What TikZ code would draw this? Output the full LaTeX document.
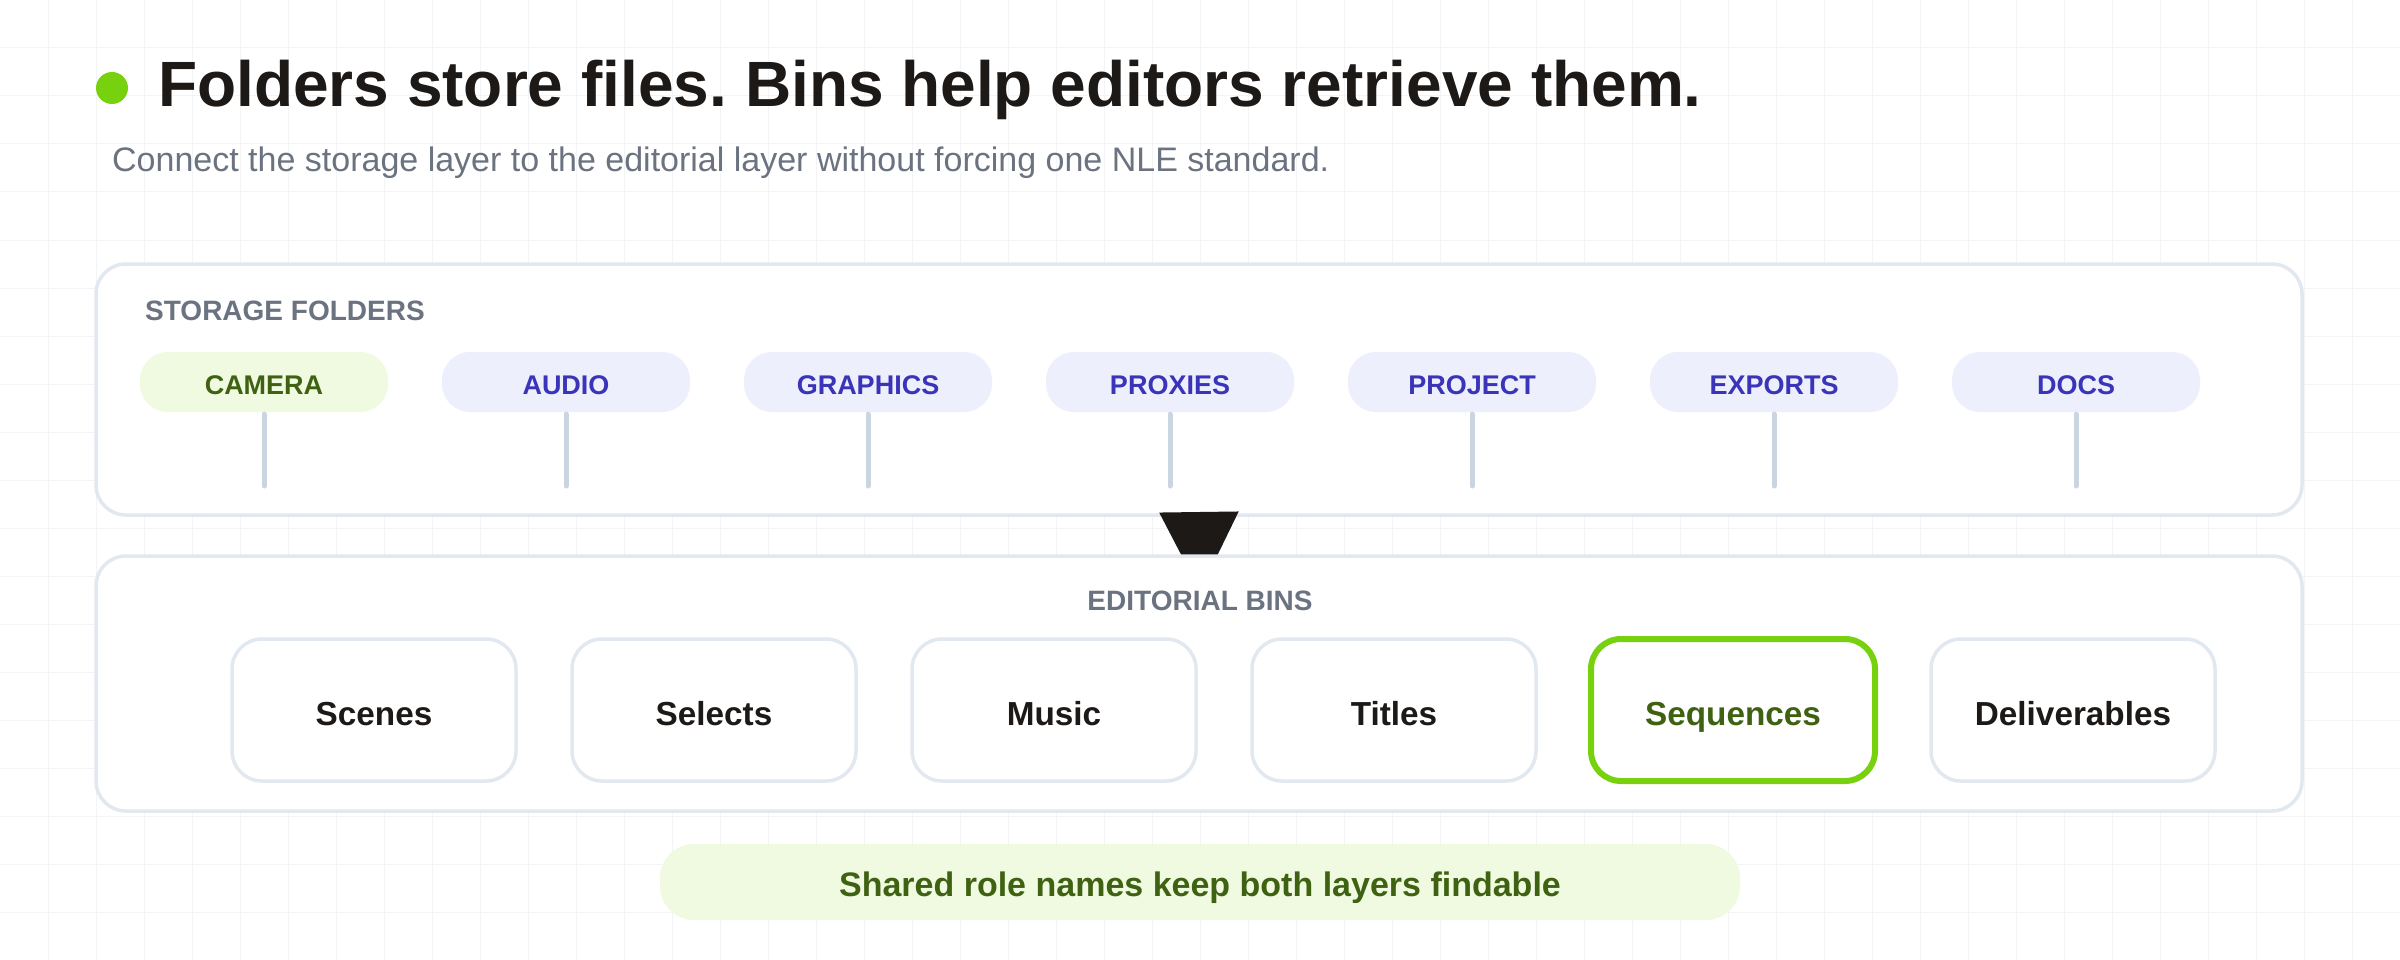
\documentclass[tikz,border=0pt]{standalone}
\usepackage{fontspec}
\setmainfont{Liberation Sans}
\usetikzlibrary{arrows.meta}
\frenchspacing
\definecolor{ink}{HTML}{1C1917}
\definecolor{muted}{HTML}{6B7280}
\definecolor{lime}{HTML}{78D10E}
\definecolor{border}{HTML}{E2E8F0}
\definecolor{stemc}{HTML}{CBD5E1}
\definecolor{gridc}{HTML}{F3F4F6}
\definecolor{indfill}{HTML}{EEEFFD}
\definecolor{indtext}{HTML}{3A34B8}
\definecolor{grfill}{HTML}{F0FAE1}
\definecolor{grtext}{HTML}{3F6212}
\begin{document}
\begin{tikzpicture}[x=1pt,y=-1pt,
  panel/.style={draw=border, line width=3.5pt, fill=white, rounded corners=30pt, inner sep=0pt},
  seclabel/.style={text=muted, font=\fontsize{28}{32}\selectfont\bfseries, inner sep=0pt},
  pill/.style={fill=indfill, text=indtext, rounded corners=28pt, minimum width=248pt, minimum height=60pt, inner sep=0pt, text height=24pt, text depth=0pt, font=\fontsize{27}{30}\selectfont\bfseries},
  greenpill/.style={pill, fill=grfill, text=grtext},
  stem/.style={draw=stemc, line width=5pt, line cap=round},
  binbox/.style={draw=border, line width=3.5pt, fill=white, rounded corners=30pt, minimum width=284pt, minimum height=142pt, inner sep=0pt, text height=30pt, text depth=0pt, text=ink, font=\fontsize{33.3}{38}\selectfont\bfseries},
  hotbin/.style={binbox, draw=lime, line width=6pt, text=grtext}
]
\fill[white] (0,0) rectangle (2400,960);
\useasboundingbox (0,0) rectangle (2400,960);
\foreach \i in {48,96,...,2352} \draw[gridc, line width=1pt] (\i,0) -- (\i,960);
\foreach \j in {48,96,...,912} \draw[gridc, line width=1pt] (0,\j) -- (2400,\j);

% title
\node[circle, fill=lime, minimum size=32pt, inner sep=0pt] (dot) at (112,88) {};
\node[anchor=base west, inner sep=0pt, text=ink, font=\fontsize{64}{72}\selectfont\bfseries] (title) at (158,107) {Folders store files. Bins help editors retrieve them.};
\node[anchor=base west, inner sep=0pt, text=muted, font=\fontsize{34}{40}\selectfont] (sub) at (112,172) {Connect the storage layer to the editorial layer without forcing one NLE standard.};

% storage panel
\node[panel, minimum width=2206pt, minimum height=251pt] (storage) at (1199,389.5) {};
\node[seclabel, anchor=base west] (stlabel) at (145,320) {STORAGE FOLDERS};

\node[greenpill] (camera) at (264,382) {CAMERA};
\node[pill] (audio) at (566,382) {AUDIO};
\node[pill] (graphics) at (868,382) {GRAPHICS};
\node[pill] (proxies) at (1170,382) {PROXIES};
\node[pill] (project) at (1472,382) {PROJECT};
\node[pill] (exports) at (1774,382) {EXPORTS};
\node[pill] (docs) at (2076,382) {DOCS};

\foreach \n/\x in {camera/264,audio/566,graphics/868,proxies/1170,project/1472,exports/1774,docs/2076}{
  \coordinate (\n-end) at (\x,486);
  \draw[stem] ([yshift=-2pt]\n.south) -- (\n-end);
}

% arrow between layers
\coordinate (tip) at (1200,591);
\draw[ink, line width=2pt, -{Triangle[width=79pt,length=79pt]}] (storage.south) -- (tip);

% editorial panel
\node[panel, minimum width=2206pt, minimum height=255pt] (editorial) at (1199,683.5) {};
\node[seclabel, anchor=base] (edlabel) at (1200,610) {EDITORIAL BINS};

\node[binbox] (scenes) at (374,710) {Scenes};
\node[binbox] (selects) at (714,710) {Selects};
\node[binbox] (music) at (1054,710) {Music};
\node[binbox] (titles) at (1394,710) {Titles};
\node[hotbin] (sequences) at (1733,710) {Sequences};
\node[binbox] (deliverables) at (2073,710) {Deliverables};

% footer pill
\node[fill=grfill, text=grtext, rounded corners=34pt, minimum width=1080pt, minimum height=76pt, inner sep=0pt, text height=28pt, text depth=0pt, font=\fontsize{34}{38}\selectfont\bfseries] (note) at (1200,882) {Shared role names keep both layers findable};
\end{tikzpicture}
\end{document}
